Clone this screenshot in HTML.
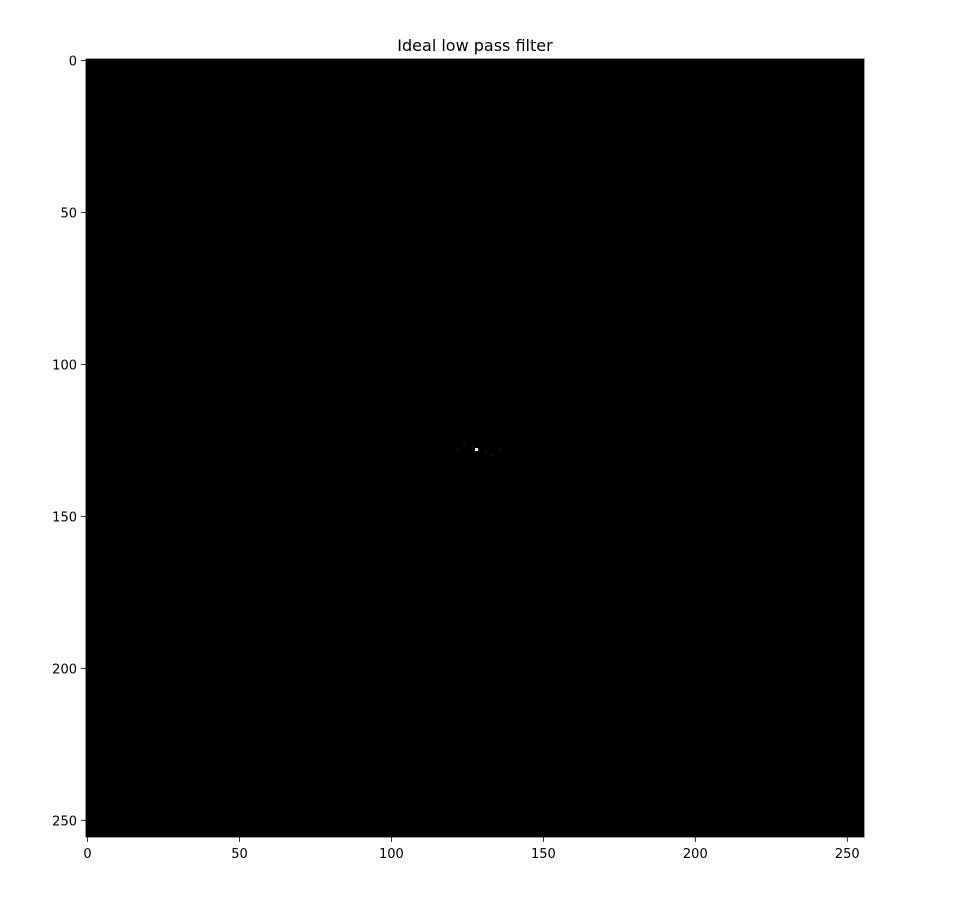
<!DOCTYPE html>
<html><head><meta charset="utf-8"><style>
body{margin:0;background:#fff;}
svg{display:block;font-family:"DejaVu Sans","Liberation Sans",sans-serif;}
</style></head><body>
<svg id="chart" width="954" height="899" viewBox="0 0 954 899">
<text x="475" y="51" font-size="16" text-anchor="middle" fill="#000">Ideal low pass filter</text>
<g id="img"></g>
<g id="axes"></g>
</svg>
<script>
const gridSize = 256;
const xTicks = [0, 50, 100, 150, 200, 250];
const yTicks = [0, 50, 100, 150, 200, 250];
const brightRows = [128, 127, 129, 126, 130, 128, 128];
const brightCols = [128, 127, 131, 124, 133, 122, 136];
const brightVals = [1.0, 0.05, 0.05, 0.04, 0.04, 0.03, 0.03];

const L = 86, T = 59, W = 778, H = 778;
const ps = W / gridSize;
const sx = v => L + (v + 0.5) * ps;
const sy = v => T + (v + 0.5) * ps;
const NS = "http://www.w3.org/2000/svg";
const img = document.getElementById('img');
const axes = document.getElementById('axes');

const bg = document.createElementNS(NS, 'rect');


bg.setAttribute('x', L); bg.setAttribute('y', T); bg.setAttribute('width', W); bg.setAttribute('height', H); bg.setAttribute('fill', '#000');
img.appendChild(bg);

for (let i = 0; i < brightVals.length; i++) {
  const c = Math.round(brightVals[i] * 255);
  const r = document.createElementNS(NS, 'rect');
  
  
  r.setAttribute('x', sx(brightCols[i]) - ps / 2);
  r.setAttribute('y', sy(brightRows[i]) - ps / 2);
  r.setAttribute('width', ps); r.setAttribute('height', ps);
  r.setAttribute('fill', `rgb(${c},${c},${c})`);
  img.appendChild(r);
}

const frame = document.createElementNS(NS, 'rect');


frame.setAttribute('x', L); frame.setAttribute('y', T); frame.setAttribute('width', W); frame.setAttribute('height', H);
frame.setAttribute('fill', 'none'); frame.setAttribute('stroke', '#000'); frame.setAttribute('stroke-width', '0.8');
axes.appendChild(frame);

xTicks.forEach(t => {
  const x = sx(t);
  const l = document.createElementNS(NS, 'line');
  
  
  l.setAttribute('x1', x); l.setAttribute('x2', x); l.setAttribute('y1', T + H); l.setAttribute('y2', T + H + 5);
  l.setAttribute('stroke', '#000'); l.setAttribute('stroke-width', '0.8');
  axes.appendChild(l);
  const tx = document.createElementNS(NS, 'text');
  
  
  tx.setAttribute('x', x); tx.setAttribute('y', T + H + 21);
  tx.setAttribute('font-size', '13'); tx.setAttribute('text-anchor', 'middle');
  tx.textContent = t;
  axes.appendChild(tx);
});
yTicks.forEach(t => {
  const y = sy(t);
  const l = document.createElementNS(NS, 'line');
  
  
  l.setAttribute('x1', L - 5); l.setAttribute('x2', L); l.setAttribute('y1', y); l.setAttribute('y2', y);
  l.setAttribute('stroke', '#000'); l.setAttribute('stroke-width', '0.8');
  axes.appendChild(l);
  const tx = document.createElementNS(NS, 'text');
  
  
  tx.setAttribute('x', L - 9); tx.setAttribute('y', y + 5);
  tx.setAttribute('font-size', '13'); tx.setAttribute('text-anchor', 'end');
  tx.textContent = t;
  axes.appendChild(tx);
});
</script>
</body></html>
